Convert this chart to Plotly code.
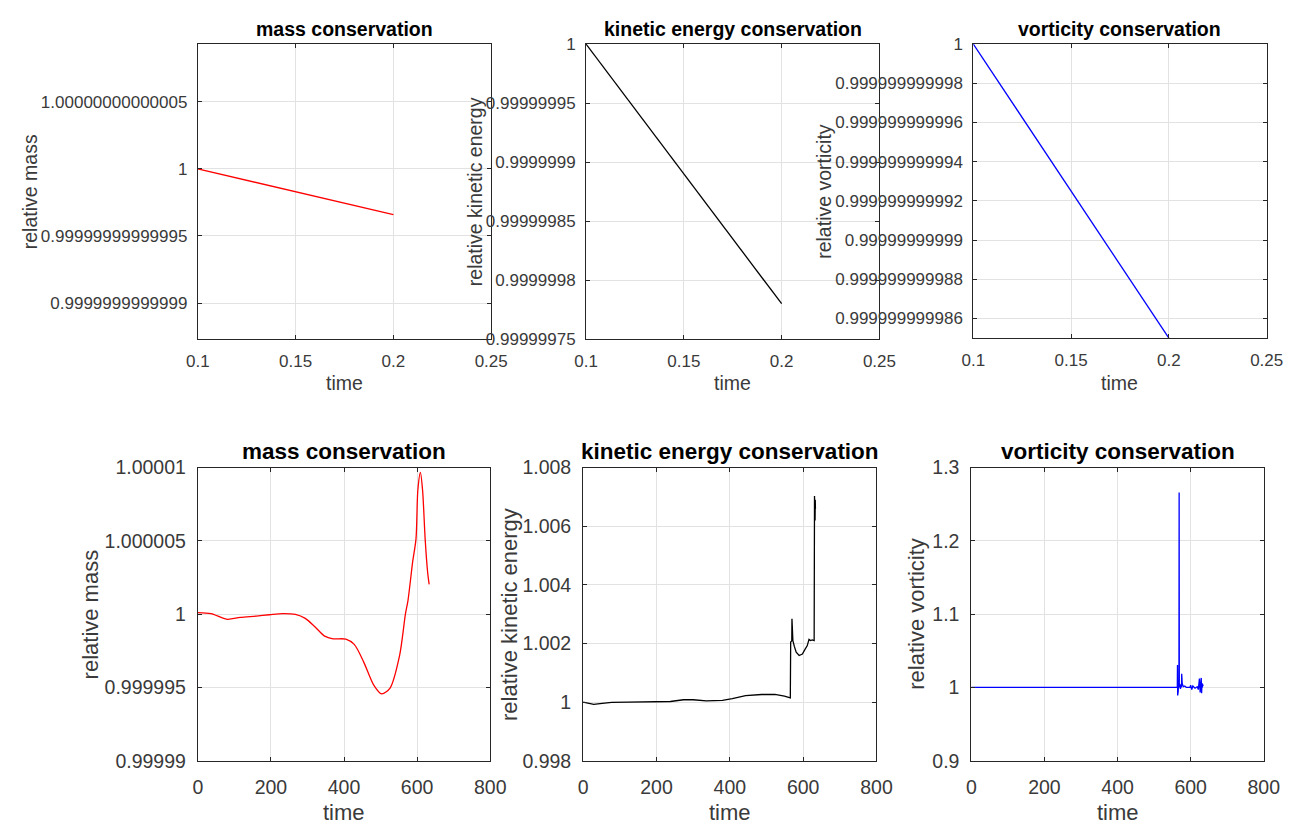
import plotly.graph_objects as go

# ---- short run (t = 0.1 .. 0.2) ----
t_short = [0.1, 0.2]
mass_short = [1.0, 0.999999999999966]
ke_short = [1.0, 0.99999978]
vort_short = [1.0, 0.999999999985]

# ---- long run (t = 0 .. ~635) ----
mass_time = [0, 36, 80, 116, 160, 196, 232, 267, 294, 321, 347, 370, 405, 428,
             454, 481, 503, 526, 552, 568, 575, 588, 597, 602, 609, 615, 622, 629, 633]
mass_rel = [1.00000011, 1.00000004, 0.99999965, 0.99999978, 0.99999987, 0.99999996,
            1.00000004, 0.99999998, 0.99999971, 0.99999912, 0.9999985, 0.99999832,
            0.9999983, 0.99999794, 0.99999673, 0.99999518, 0.99999456, 0.99999496,
            0.99999717, 1.0, 1.00000093, 1.0000036, 1.00000514, 1.00000846,
            1.00000967, 1.00000846, 1.00000514, 1.00000281, 1.00000204]

ke_time = [0, 16, 29, 52, 78, 123, 203, 238, 274, 300, 336, 380, 407, 443, 487, 523,
           549, 565, 566, 569, 569.5, 570, 572, 576, 581, 589, 598, 605, 611, 616,
           620, 625, 629, 630, 631, 631.5, 632, 632.5, 633, 633.5]
ke_rel = [1.0, 0.99996, 0.99992, 0.99996, 0.99999, 1.0, 1.0, 1.00002, 1.00008, 1.00008,
          1.00004, 1.00006, 1.00012, 1.00022, 1.00026, 1.00026, 1.0002, 1.00014,
          1.00205, 1.00209, 1.00284, 1.0022, 1.0021, 1.0019, 1.0017, 1.00159, 1.00164,
          1.0018, 1.00192, 1.00214, 1.0021, 1.00212, 1.00212, 1.0021, 1.00703, 1.0064,
          1.0070, 1.0062, 1.0069, 1.0066]

vort_time = [0, 100, 200, 300, 400, 500, 560, 563.5, 564, 564.5, 565, 566, 567, 568,
             568.5, 569, 570, 572, 574, 575, 575.5, 576, 577, 580, 584, 588, 592, 596,
             598, 600, 603, 606, 609, 612, 615, 618, 621, 624, 626, 627, 628, 629, 630,
             631, 632, 633, 634]
vort_rel = [1.0, 1.0, 1.0, 1.0, 1.0, 1.0, 1.0, 1.0, 1.0305, 0.989, 1.02, 0.995, 1.01,
            1.0, 1.266, 1.0, 1.005, 0.998, 1.004, 1.0, 1.0186, 1.0, 1.005, 1.001, 1.002,
            1.0, 1.0, 1.001, 1.0, 1.003, 0.997, 1.002, 1.0, 0.999, 1.0, 1.001, 0.997,
            1.012, 0.993, 1.008, 0.995, 1.013, 0.992, 1.006, 1.0, 1.004, 1.002]

# ---- tick labels ----
short_xticks = [0.1, 0.15, 0.2, 0.25]
short_xtext = ["0.1", "0.15", "0.2", "0.25"]
mass_short_ticks = [1 - 1e-13, 1 - 5e-14, 1.0, 1 + 5e-14]
mass_short_text = ["0.9999999999999", "0.99999999999995", "1", "1.00000000000005"]
ke_short_ticks = [0.99999975, 0.9999998, 0.99999985, 0.9999999, 0.99999995, 1.0]
ke_short_text = ["0.99999975", "0.9999998", "0.99999985", "0.9999999", "0.99999995", "1"]
vort_short_ticks = [0.999999999986, 0.999999999988, 0.99999999999, 0.999999999992,
                    0.999999999994, 0.999999999996, 0.999999999998, 1.0]
vort_short_text = ["0.999999999986", "0.999999999988", "0.99999999999", "0.999999999992",
                   "0.999999999994", "0.999999999996", "0.999999999998", "1"]
long_xticks = [0, 200, 400, 600, 800]
long_xtext = ["0", "200", "400", "600", "800"]
mass_long_ticks = [0.99999, 0.999995, 1.0, 1.000005, 1.00001]
mass_long_text = ["0.99999", "0.999995", "1", "1.000005", "1.00001"]
ke_long_ticks = [0.998, 1.0, 1.002, 1.004, 1.006, 1.008]
ke_long_text = ["0.998", "1", "1.002", "1.004", "1.006", "1.008"]
vort_long_ticks = [0.9, 1.0, 1.1, 1.2, 1.3]
vort_long_text = ["0.9", "1", "1.1", "1.2", "1.3"]

W, H = 1314, 835
FONT = "Liberation Sans, Arial, Helvetica, sans-serif"
AXCOL = "#262626"
TICKCOL = "#3a3a3a"


def xdom(left, right):
    return [left / W, right / W]


def ydom(top, bottom):
    return [1 - bottom / H, 1 - top / H]


def axis_style(size, standoff):
    return dict(
        showline=True, linecolor=AXCOL, linewidth=1, mirror="ticks",
        ticks="inside", ticklen=4, tickcolor=AXCOL, tickwidth=1,
        showgrid=True, gridcolor="#e2e2e2", gridwidth=1, zeroline=False,
        tickfont=dict(family=FONT, size=size, color=TICKCOL),
        ticklabelstandoff=standoff, tickmode="array",
    )


# plot boxes (left, right, top, bottom) in pixels
boxes = [
    (190, 490, 34, 337), (587, 887, 34, 337), (983, 1283, 34, 336),
    (190, 489, 469, 770), (584, 884, 469, 770), (981, 1280, 469, 770),
]

series = [
    (t_short, mass_short, "#ff0000", "linear"),
    (t_short, ke_short, "#000000", "linear"),
    (t_short, vort_short, "#0000ff", "linear"),
    (mass_time, mass_rel, "#ff0000", "spline"),
    (ke_time, ke_rel, "#000000", "linear"),
    (vort_time, vort_rel, "#0000ff", "linear"),
]

yspecs = [
    ([1 - 1.268e-13, 1 + 9.28e-14], mass_short_ticks, mass_short_text),
    ([0.99999975, 1.0], ke_short_ticks, ke_short_text),
    ([1 - 1.5e-11, 1.0], vort_short_ticks, vort_short_text),
    ([0.99999, 1.00001], mass_long_ticks, mass_long_text),
    ([0.998, 1.008], ke_long_ticks, ke_long_text),
    ([0.9, 1.3], vort_long_ticks, vort_long_text),
]

titles = ["mass conservation", "kinetic energy conservation", "vorticity conservation"] * 2
ylabels = ["relative mass", "relative kinetic energy", "relative vorticity"] * 2
ylabel_x = [18, 473, 830, 80, 508, 925]

fig = go.Figure()
layout = dict(
    width=W, height=H, margin=dict(l=0, r=0, t=0, b=0),
    paper_bgcolor="white", plot_bgcolor="white", showlegend=False,
)
annotations = []

for i in range(6):
    n = i + 1
    sfx = "" if n == 1 else str(n)
    left, right, top, bottom = boxes[i]
    top_row = i < 3
    tick_size = 17 if top_row else 19.5
    lab_size = 19.5 if top_row else 22
    title_size = 19.5 if top_row else 22.5
    x_standoff = 6 if top_row else 9
    y_standoff = 6 if top_row else 7

    xs, ys, col, shape = series[i]
    line = dict(color=col, width=1.3, shape=shape)
    if shape == "spline":
        line["smoothing"] = 0.8
    fig.add_trace(go.Scatter(x=xs, y=ys, mode="lines", line=line,
                             xaxis="x" + sfx, yaxis="y" + sfx, hoverinfo="skip"))

    xa = axis_style(tick_size, x_standoff)
    if top_row:
        xa.update(range=[0.1, 0.25], tickvals=short_xticks, ticktext=short_xtext)
    else:
        xa.update(range=[0, 800], tickvals=long_xticks, ticktext=long_xtext)
    xa.update(domain=xdom(left, right), anchor="y" + sfx)

    yr, yt, ytext = yspecs[i]
    ya = axis_style(tick_size, y_standoff)
    ya.update(range=yr, tickvals=yt, ticktext=ytext, domain=ydom(top, bottom), anchor="x" + sfx)

    layout["xaxis" + sfx] = xa
    layout["yaxis" + sfx] = ya

    cx = (left + right) / 2 / W
    title_y = 19 if top_row else 452
    time_y = 382 if top_row else 823
    annotations.append(dict(
        text="<b>" + titles[i] + "</b>", x=cx, y=1 - title_y / H, xref="paper", yref="paper",
        xanchor="center", yanchor="middle", showarrow=False,
        font=dict(family=FONT, size=title_size, color="#000000")))
    annotations.append(dict(
        text="time", x=cx, y=1 - time_y / H, xref="paper", yref="paper",
        xanchor="center", yanchor="middle", showarrow=False,
        font=dict(family=FONT, size=lab_size, color=TICKCOL)))
    annotations.append(dict(
        text=ylabels[i], x=ylabel_x[i] / W, y=1 - (top + bottom) / 2 / H,
        xref="paper", yref="paper", xanchor="center", yanchor="middle",
        textangle=-90, showarrow=False,
        font=dict(family=FONT, size=lab_size, color=TICKCOL)))

layout["annotations"] = annotations
fig.update_layout(**layout)

# full-bleed page: the figure fills the window exactly
fig.write_html(
    "out.html",
    post_script="document.body.style.margin='0';document.body.style.overflow='hidden';",
)
